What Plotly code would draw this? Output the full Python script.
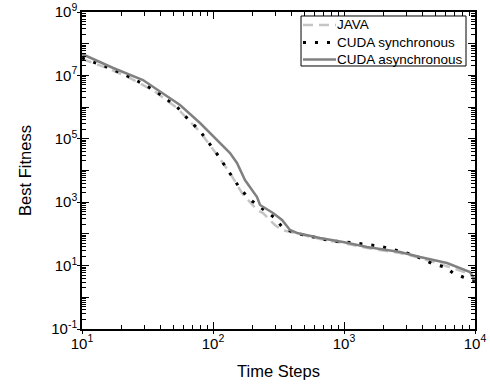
import plotly.graph_objects as go

# ---- data ----
java_x = [10, 15.5, 23.2, 35.5, 53.1, 79.6, 103.5, 134.9, 166.3, 216.8, 241, 297, 336.5, 387,
          461, 656, 982, 1500, 2673, 3802, 5408, 8690, 9480, 10000]
java_y = [3.29e7, 1.71e7, 8.28e6, 3.22e6, 9.37e5, 1.64e5, 3.84e4, 8.34e3, 1.95e3, 568, 456, 191, 133, 115,
          99.3, 69, 51.6, 35.9, 24.9, 17.4, 11.2, 5.85, 4.70, 3.04]

sync_x = [10, 15.5, 23.2, 35.5, 53.1, 64.4, 79.6, 107.4, 142.2, 163.7, 198.6, 241, 297, 342, 423,
          634, 809, 1213, 1849, 2818, 3420, 4775, 5902, 6792, 8091, 10000]
sync_y = [3.54e7, 1.84e7, 8.91e6, 3.46e6, 1.01e6, 4.22e5, 1.76e5, 3.32e4, 5.79e3, 2.43e3, 1.09e3, 610, 318, 153, 107,
          74.3, 59.7, 51.6, 41.5, 26.9, 21.6, 11.2, 9.04, 5.85, 4.37, 3.27]

async_x = [10, 17.3, 29.2, 56.0, 79.6, 134.9, 152.4, 175.4, 216.8, 228.6, 287, 336.5, 387, 437.5,
           656, 982, 1500, 2673, 3802, 5408, 6109, 9162, 9660, 10000]
async_y = [4.73e7, 1.71e7, 7.16e6, 1.164e6, 3.15e5, 3.56e4, 1.73e4, 5.01e3, 1.46e3, 817, 456, 274, 133, 107,
           74.3, 55.5, 38.6, 26.9, 18.7, 13.0, 12.1, 6.28, 4.37, 3.52]

series_names = ["JAVA", "CUDA synchronous", "CUDA asynchronous"]

x_exponents = [1, 2, 3, 4]
x_labels = ["10<sup>1</sup>", "10<sup>2</sup>", "10<sup>3</sup>", "10<sup>4</sup>"]
y_exponents = [-1, 0, 1, 2, 3, 4, 5, 6, 7, 8, 9]
y_labels = ["10<sup>-1</sup>", "", "10<sup>1</sup>", "", "10<sup>3</sup>", "",
            "10<sup>5</sup>", "", "10<sup>7</sup>", "", "10<sup>9</sup>"]
y_labelled_exponents = [-1, 1, 3, 5, 7, 9]
minor_digits = [2, 3, 4, 5, 6, 7, 8, 9]

x_tickvals = [10.0 ** e for e in x_exponents]
y_tickvals = [10.0 ** e for e in y_exponents]
x_minor = [d * 10.0 ** e for e in x_exponents[:-1] for d in minor_digits]
y_minor = [d * 10.0 ** e for e in y_exponents[:-1] for d in minor_digits]

FONT = "Liberation Sans, Arial, sans-serif"
styles = [dict(color="#c4c4c4", width=2.5, dash="10px,6px"),
          dict(color="#000000", width=3, dash="3px,9px"),
          dict(color="#808080", width=2.5)]

fig = go.Figure()
for name, xs, ys, st in zip(series_names, [java_x, sync_x, async_x], [java_y, sync_y, async_y], styles):
    fig.add_trace(go.Scatter(x=xs, y=ys, mode="lines", name=name, line=st, showlegend=False))

# helper traces so the overlay tick axes are drawn
for ax in ("2", "3"):
    fig.add_trace(go.Scatter(x=[10], y=[1], xaxis="x" + ax, yaxis="y" + ax, mode="lines",
                             showlegend=False, hoverinfo="skip", line=dict(width=0)))

base = dict(type="log", showgrid=False, zeroline=False, automargin=False,
            linecolor="black", linewidth=1.5, tickcolor="black")

fig.update_layout(
    width=490, height=387,
    margin=dict(l=82, r=15, t=12, b=58),
    paper_bgcolor="white", plot_bgcolor="white",
    font=dict(family=FONT, color="black"),
    showlegend=False,
    xaxis=dict(**base, range=[1, 4], showline=True, mirror="ticks",
               ticks="inside", ticklen=7, tickwidth=1.2,
               tickmode="array", tickvals=x_tickvals, ticktext=x_labels,
               tickfont=dict(family=FONT, size=15, color="black"),
               title=dict(text="Time Steps", font=dict(family=FONT, size=16.5))),
    yaxis=dict(**base, range=[-1, 9], showline=True, mirror="ticks",
               ticks="inside", ticklen=7, tickwidth=1.2,
               tickmode="array", tickvals=y_tickvals, ticktext=y_labels,
               tickfont=dict(family=FONT, size=15, color="black"),
               title=dict(text="Best Fitness", font=dict(family=FONT, size=16.5))),
    # outside part of the major ticks (bottom / left)
    xaxis2=dict(**base, range=[1, 4], overlaying="x", anchor="y", side="bottom",
                showline=False, showticklabels=False, ticks="outside", ticklen=4, tickwidth=1.2,
                tickmode="array", tickvals=x_tickvals),
    yaxis2=dict(**base, range=[-1, 9], overlaying="y", anchor="x", side="left",
                showline=False, showticklabels=False, ticks="outside", ticklen=4, tickwidth=1.2,
                tickmode="array", tickvals=[10.0 ** e for e in y_labelled_exponents]),
    # minor ticks
    xaxis3=dict(**base, range=[1, 4], overlaying="x", anchor="y", side="bottom",
                showline=True, mirror="ticks", showticklabels=False, ticks="inside", ticklen=4,
                tickwidth=1, tickmode="array", tickvals=x_minor),
    yaxis3=dict(**base, range=[-1, 9], overlaying="y", anchor="x", side="left",
                showline=True, mirror="ticks", showticklabels=False, ticks="inside", ticklen=4,
                tickwidth=1, tickmode="array", tickvals=y_minor),
)

# ---- legend box drawn in paper coordinates ----
leg_x0, leg_x1, leg_y0, leg_y1 = 0.5573, 0.9771, 0.8297, 0.9874
row_y = [0.9590, 0.9038, 0.8502]
sym_x0, sym_x1, txt_x = 0.5623, 0.6463, 0.6463
fig.add_shape(type="rect", xref="paper", yref="paper", x0=leg_x0, x1=leg_x1, y0=leg_y0, y1=leg_y1,
              line=dict(color="black", width=1), fillcolor="white", layer="above")
for name, st, yy in zip(series_names, styles, row_y):
    fig.add_shape(type="line", xref="paper", yref="paper", x0=sym_x0, x1=sym_x1, y0=yy, y1=yy,
                  line=dict(color=st["color"], width=st["width"], dash=st.get("dash", "solid")),
                  layer="above")
    fig.add_annotation(text=name, xref="paper", yref="paper", x=txt_x, y=yy, xanchor="left",
                       yanchor="middle", showarrow=False, borderpad=0,
                       font=dict(family=FONT, size=13.5, color="black"))

fig.write_html("out.html")
